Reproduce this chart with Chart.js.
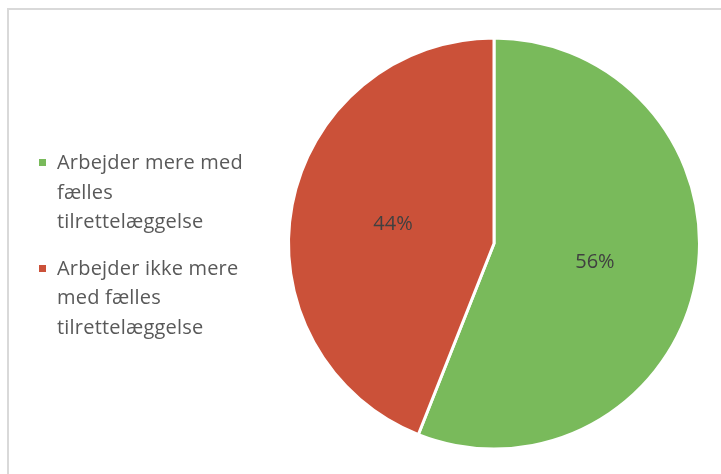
<!DOCTYPE html>
<html>
<head>
<meta charset="utf-8">
<script src="https://cdn.jsdelivr.net/npm/chart.js@4/dist/chart.umd.min.js"></script>
<style>
  html, body { margin: 0; padding: 0; background: #fff; }
  body { width: 721px; height: 474px; position: relative; overflow: hidden; }
  .frame { position: absolute; left: 7px; top: 8px; width: 760px; height: 520px; border: 2px solid #d9d9d9; box-sizing: border-box; }
  #chartWrap { position: absolute; left: 0; top: 0; width: 721px; height: 474px; }
  #legend { position: absolute; left: 39px; top: 147px; font-family: "Open Sans", sans-serif; font-size: 20px; letter-spacing: 0.2px; color: #595959; }
  .legend-item { position: relative; padding-left: 18px; line-height: 29.5px; margin-bottom: 17px; }
  .legend-box { position: absolute; left: 0; top: 12px; width: 7px; height: 7px; }
</style>
</head>
<body>
<div class="frame"></div>
<div id="chartWrap"><canvas id="pieChart"></canvas></div>
<div id="legend"></div>
<script>
const categories = [
  ['Arbejder mere med', 'fælles', 'tilrettelæggelse'],
  ['Arbejder ikke mere', 'med fælles', 'tilrettelæggelse']
];
const shares = [56, 44];
const sliceColors = ['#79ba5b', '#cb5139'];

const pieLabels = {
  id: 'pieLabels',
  afterDatasetsDraw(chart) {
    const ctx = chart.ctx;
    const meta = chart.getDatasetMeta(0);
    ctx.save();
    ctx.font = '20px "Open Sans", sans-serif';
    ctx.fillStyle = '#404040';
    ctx.textAlign = 'center';
    ctx.textBaseline = 'middle';
    meta.data.forEach((arc, i) => {
      const pos = arc.tooltipPosition();
      ctx.fillText(shares[i] + '%', pos.x, pos.y);
    });
    ctx.restore();
  }
};

document.addEventListener('DOMContentLoaded', function() {
  const ctx = document.getElementById('pieChart').getContext('2d');
  new Chart(ctx, {
    type: 'pie',
    data: {
      labels: categories,
      datasets: [{
        data: shares,
        backgroundColor: sliceColors,
        borderColor: '#ffffff',
        borderWidth: 3,
        hoverOffset: 0
      }]
    },
    options: {
      responsive: true,
      maintainAspectRatio: false,
      animation: false,
      layout: { padding: { left: 287, right: 20, top: 35, bottom: 22 } },
      plugins: {
        legend: { display: false },
        tooltip: { enabled: false }
      }
    },
    plugins: [pieLabels]
  });

  const legend = document.getElementById('legend');
  legend.innerHTML = categories.map((lines, i) => `
    <div class="legend-item">
      <span class="legend-box" style="background:${sliceColors[i]}"></span>
      ${lines.join('<br>')}
    </div>
  `).join('');
});
</script>
</body>
</html>
